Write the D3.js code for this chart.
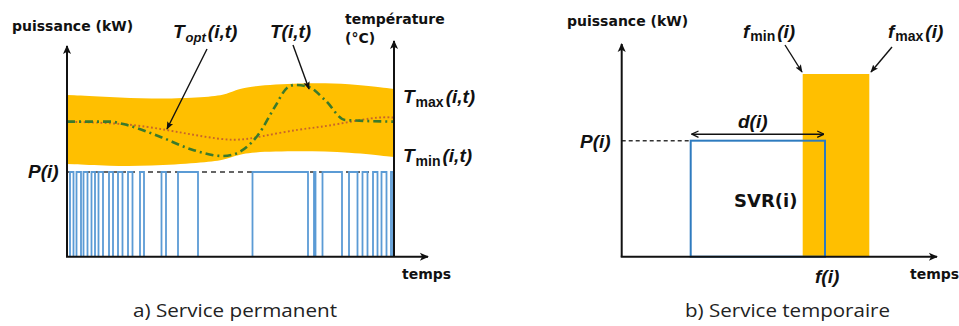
<!DOCTYPE html>
<html>
<head>
<meta charset="utf-8">
<script src="https://cdn.jsdelivr.net/npm/d3@7"></script>
<style>
  html, body { margin: 0; padding: 0; background: #fff; }
  svg { display: block; }
  .bold { font-family: "DejaVu Sans", sans-serif; font-weight: bold; fill: #111; }
  .ital { font-family: "Liberation Sans", Arial, sans-serif; font-weight: bold; font-style: italic; fill: #111; }
  .cap { font-family: "Open Sans", sans-serif; fill: #222; }
</style>
</head>
<body>
<script>
// ---------- DATA ----------
// (a) Service permanent — time in arbitrary units (0..327), power 0..100, temperature 0..100
const pulseStart = [3, 9.5, 16.5, 24.5, 31.5, 42, 51, 61, 73, 94.5, 111, 185.5, 247, 255.5, 282, 295.5, 306, 314.5, 324];
const pulseEnd   = [6.5, 14, 20.5, 28, 36, 46, 55.5, 65.5, 77, 99, 131, 241, 248.5, 275, 290.5, 300.5, 310.5, 319.5, 326];
const permanentPower = 40;

const bandTime = [0, 43, 83, 133, 158, 168, 183, 233, 283, 327];
const tMaxVals = [75.3, 74.4, 73.4, 74.1, 75.3, 77.6, 79.5, 80.9, 80.7, 78.1];
const tMinVals = [43.2, 42.2, 42.2, 43.6, 45.0, 47.0, 48.8, 49.2, 48.8, 46.4];

const toptTime = [0, 60, 100, 133, 168, 193, 233, 258, 308, 327];
const toptVals = [62.9, 62.1, 59.0, 56.2, 53.7, 55.9, 59.5, 60.5, 65.2, 64.8];

const tempTime = [0, 43, 60, 93, 126, 156, 165, 191, 208, 220, 228, 241, 258, 278, 327];
const tempVals = [62.9, 62.9, 61.3, 55.9, 49.7, 46.9, 47.4, 56.7, 69.9, 78.6, 80.0, 79.2, 73.0, 63.7, 62.9];

// (b) Service temporaire — time 0..315, power 0..100
const svrStart = 69, svrEnd = 203.3, svrPower = 54.8;
const fMin = 181, fMax = 247.6, windowPower = 86.3;

const captions = ["a) Service permanent", "b) Service temporaire"];

// ---------- SETUP ----------
const W = 959, H = 326;
const svg = d3.select("body").append("svg").attr("width", W).attr("height", H);
const defs = svg.append("defs");
defs.append("marker").attr("id", "arr").attr("viewBox", "0 0 10 10")
  .attr("refX", 9).attr("refY", 5).attr("markerWidth", 10).attr("markerHeight", 9)
  .attr("markerUnits", "userSpaceOnUse").attr("orient", "auto-start-reverse")
  .append("path").attr("d", "M0,0.5 L10,5 L0,9.5 L2.5,5 Z").attr("fill", "#111");
defs.append("marker").attr("id", "arrS").attr("viewBox", "0 0 10 10")
  .attr("refX", 9).attr("refY", 5).attr("markerWidth", 8).attr("markerHeight", 8)
  .attr("markerUnits", "userSpaceOnUse").attr("orient", "auto-start-reverse")
  .append("path").attr("d", "M0,1 L10,5 L0,9 L2,5 Z").attr("fill", "#111");
defs.append("marker").attr("id", "chev").attr("viewBox", "0 0 10 10")
  .attr("refX", 9.5).attr("refY", 5).attr("markerWidth", 8).attr("markerHeight", 8)
  .attr("markerUnits", "userSpaceOnUse").attr("orient", "auto-start-reverse")
  .append("path").attr("d", "M1,1 L9.5,5 L1,9").attr("fill", "none").attr("stroke", "#111").attr("stroke-width", 1.6);

const ORANGE = "#ffbf00", BLUE = "#5b9bd5", BLUE2 = "#2e7bbf", GREEN = "#3b7a2c", RUST = "#c8642a";

// ---------- PANEL A ----------
const xL = d3.scaleLinear().domain([0, 327]).range([67, 394]);
const yPL = d3.scaleLinear().domain([0, 100]).range([256.7, 45]);
const yTL = d3.scaleLinear().domain([0, 100]).range([256.7, 42]);

// band
const band = bandTime.map((t, i) => ({ t, hi: tMaxVals[i], lo: tMinVals[i] }));
svg.append("path").datum(band)
  .attr("d", d3.area().x(d => xL(d.t)).y0(d => yTL(d.lo)).y1(d => yTL(d.hi)).curve(d3.curveBasis))
  .attr("fill", ORANGE);

// dashed P(i) line
svg.append("line").attr("x1", xL(0)).attr("x2", xL(327)).attr("y1", yPL(permanentPower)).attr("y2", yPL(permanentPower))
  .attr("stroke", "#333").attr("stroke-width", 1.6).attr("stroke-dasharray", "5,4");

// pulses
const pulses = pulseStart.map((s, i) => ({ s, e: pulseEnd[i] }));
svg.append("g").selectAll("path").data(pulses).join("path")
  .attr("d", d => `M${xL(d.s)},${yPL(0)}V${yPL(permanentPower)}H${xL(d.e)}V${yPL(0)}`)
  .attr("fill", "none").attr("stroke", BLUE).attr("stroke-width", 1.8);

// Topt dotted
svg.append("path").datum(toptTime.map((t, i) => [t, toptVals[i]]))
  .attr("d", d3.line().x(d => xL(d[0])).y(d => yTL(d[1])).curve(d3.curveBasis))
  .attr("fill", "none").attr("stroke", RUST).attr("stroke-width", 1.9).attr("stroke-dasharray", "1.8,2.4");

// T(i,t) dash-dot
svg.append("path").datum(tempTime.map((t, i) => [t, tempVals[i]]))
  .attr("d", d3.line().x(d => xL(d[0])).y(d => yTL(d[1])).curve(d3.curveMonotoneX))
  .attr("fill", "none").attr("stroke", GREEN).attr("stroke-width", 2.6).attr("stroke-dasharray", "8,4,2,4");

// axes
const axA = svg.append("g").attr("stroke", "#111").attr("stroke-width", 2);
axA.append("line").attr("x1", xL(0)).attr("y1", yPL(0)).attr("x2", xL(0)).attr("y2", 46).attr("marker-end", "url(#arr)");
axA.append("line").attr("x1", xL(327)).attr("y1", yPL(0)).attr("x2", xL(327)).attr("y2", 41).attr("marker-end", "url(#arr)");
axA.append("line").attr("x1", xL(0) - 1).attr("y1", yPL(0)).attr("x2", 428).attr("y2", yPL(0)).attr("marker-end", "url(#arr)");

// leader arrows
svg.append("line").attr("x1", 207).attr("y1", 49).attr("x2", 167).attr("y2", 129)
  .attr("stroke", "#111").attr("stroke-width", 1.4).attr("marker-end", "url(#arrS)");
svg.append("line").attr("x1", 293).attr("y1", 45).attr("x2", 309).attr("y2", 89)
  .attr("stroke", "#111").attr("stroke-width", 1.4).attr("marker-end", "url(#arrS)");

// labels A
svg.append("text").attr("class", "bold").attr("x", 12).attr("y", 31).attr("font-size", 14).text("puissance (kW)");
svg.append("text").attr("class", "bold").attr("x", 345).attr("y", 24).attr("font-size", 14).text("température");
svg.append("text").attr("class", "bold").attr("x", 345).attr("y", 43).attr("font-size", 14).text("(°C)");

function subLabel(x, y, main, sub, tail, fs, sfs, dy, upright) {
  const t = svg.append("text").attr("class", "ital").attr("x", x).attr("y", y).attr("font-size", fs);
  t.append("tspan").text(main);
  const s = t.append("tspan").attr("font-size", sfs).attr("dy", dy).attr("dx", 1).text(sub);
  if (upright) s.attr("font-style", "normal");
  t.append("tspan").attr("dy", -dy).attr("dx", 2).text(tail);
  return t;
}
subLabel(173, 38, "T", "opt", "(i,t)", 19, 13, 4, false);
svg.append("text").attr("class", "ital").attr("x", 270).attr("y", 38).attr("font-size", 19).text("T(i,t)");
subLabel(403, 103, "T", "max", "(i,t)", 19, 14, 4, true);
subLabel(403, 162, "T", "min", "(i,t)", 19, 14, 4, true);
svg.append("text").attr("class", "ital").attr("x", 28).attr("y", 178).attr("font-size", 19).text("P(i)");
svg.append("text").attr("class", "bold").attr("x", 402).attr("y", 279).attr("font-size", 14).text("temps");
svg.append("text").attr("class", "cap").attr("x", 133).attr("y", 317).attr("font-size", 19)
  .attr("textLength", 204).attr("lengthAdjust", "spacingAndGlyphs").text(captions[0]);

// ---------- PANEL B ----------
const xR = d3.scaleLinear().domain([0, 315]).range([621.7, 936.7]);
const yPR = d3.scaleLinear().domain([0, 100]).range([256.7, 45]);

svg.append("rect").attr("x", xR(fMin)).attr("y", yPR(windowPower))
  .attr("width", xR(fMax) - xR(fMin)).attr("height", yPR(0) - yPR(windowPower)).attr("fill", ORANGE);

svg.append("line").attr("x1", xR(0)).attr("x2", xR(svrStart)).attr("y1", yPR(svrPower)).attr("y2", yPR(svrPower))
  .attr("stroke", "#333").attr("stroke-width", 1.4).attr("stroke-dasharray", "4,3");

svg.append("rect").attr("x", xR(svrStart)).attr("y", yPR(svrPower))
  .attr("width", xR(svrEnd) - xR(svrStart)).attr("height", yPR(0) - yPR(svrPower))
  .attr("fill", "none").attr("stroke", BLUE2).attr("stroke-width", 2);

const axB = svg.append("g").attr("stroke", "#111").attr("stroke-width", 2);
axB.append("line").attr("x1", xR(0)).attr("y1", yPR(0)).attr("x2", xR(0)).attr("y2", 44).attr("marker-end", "url(#arr)");
axB.append("line").attr("x1", xR(0) - 1).attr("y1", yPR(0)).attr("x2", 937).attr("y2", yPR(0)).attr("marker-end", "url(#arr)");

// d(i) double arrow
svg.append("line").attr("x1", xR(svrStart) + 1).attr("x2", xR(svrEnd) - 1)
  .attr("y1", yPR(svrPower) - 6.5).attr("y2", yPR(svrPower) - 6.5)
  .attr("stroke", "#111").attr("stroke-width", 1.4)
  .attr("marker-start", "url(#chev)").attr("marker-end", "url(#chev)");

// leader arrows
svg.append("line").attr("x1", 785).attr("y1", 45).attr("x2", 802).attr("y2", 72)
  .attr("stroke", "#111").attr("stroke-width", 1.4).attr("marker-end", "url(#arrS)");
svg.append("line").attr("x1", 892).attr("y1", 47).attr("x2", 871).attr("y2", 72)
  .attr("stroke", "#111").attr("stroke-width", 1.4).attr("marker-end", "url(#arrS)");

// labels B
svg.append("text").attr("class", "bold").attr("x", 567).attr("y", 26).attr("font-size", 14).text("puissance (kW)");
subLabel(743, 38, "f", "min", "(i)", 19, 14, 3, true);
subLabel(888, 38, "f", "max", "(i)", 19, 14, 3, true);
svg.append("text").attr("class", "ital").attr("x", 738).attr("y", 128).attr("font-size", 19).text("d(i)");
svg.append("text").attr("class", "ital").attr("x", 580).attr("y", 148).attr("font-size", 19).text("P(i)");
svg.append("text").attr("class", "bold").attr("x", 734).attr("y", 207).attr("font-size", 18).text("SVR(i)");
svg.append("text").attr("class", "ital").attr("x", 815).attr("y", 283).attr("font-size", 19).text("f(i)");
svg.append("text").attr("class", "bold").attr("x", 910).attr("y", 279).attr("font-size", 14).text("temps");
svg.append("text").attr("class", "cap").attr("x", 685).attr("y", 317).attr("font-size", 19)
  .attr("textLength", 205).attr("lengthAdjust", "spacingAndGlyphs").text(captions[1]);
</script>
</body>
</html>
